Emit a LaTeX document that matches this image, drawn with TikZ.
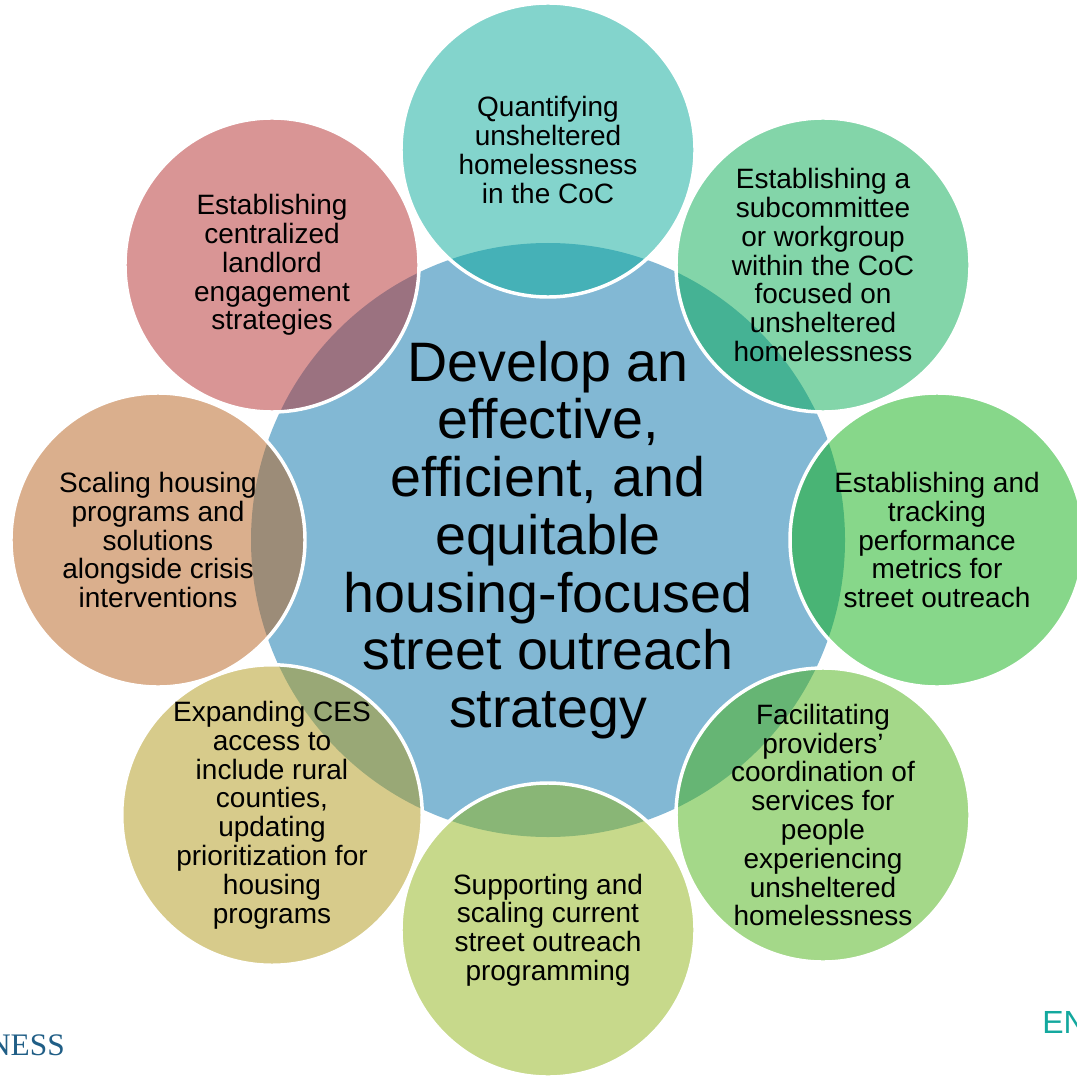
\documentclass[tikz,border=0pt]{standalone}
\usepackage{fontspec}
\setmainfont{Liberation Sans}
\newfontfamily\logoserif{Liberation Serif}
\definecolor{octblue}{RGB}{130,184,212}
\definecolor{cTop}{RGB}{9,171,155}
\definecolor{cTR}{RGB}{9,173,85}
\definecolor{cR}{RGB}{17,177,23}
\definecolor{cBR}{RGB}{75,179,21}
\definecolor{cB}{RGB}{145,181,25}
\definecolor{cBL}{RGB}{177,153,25}
\definecolor{cL}{RGB}{183,97,29}
\definecolor{cTL}{RGB}{181,45,45}
\definecolor{logoblue}{RGB}{32,94,134}
\definecolor{logoteal}{RGB}{19,168,158}
\begin{document}
\begin{tikzpicture}[x=0.75pt,y=-0.75pt,
  bubble/.style={circle,minimum size=220.5pt,inner sep=0pt,outer sep=0pt,
    draw=white,line width=2.6pt,fill opacity=0.5,draw opacity=1,text opacity=1,
    align=center,font=\fontsize{21}{21.6}\selectfont,text=black},
  hub/.style={circle,minimum size=445.5pt,inner sep=0pt,outer sep=0pt,fill=octblue,
    align=center,font=\fontsize{41.7}{43.3}\selectfont,text=black}]
\useasboundingbox (0,0) rectangle (1076,1080);
\fill[white] (0,0) rectangle (1076,1080);
% central circle with text
\node[hub] (hub) at (548,540) {Develop an\\effective,\\efficient, and\\equitable\\housing-focused\\street outreach\\strategy};
% surrounding circles
\node[bubble,fill=cTop] (top) at (548,150) {Quantifying\\unsheltered\\homelessness\\in the CoC};
\node[bubble,fill=cTR] (tr) at (823,265) {Establishing a\\subcommittee\\or workgroup\\within the CoC\\focused on\\unsheltered\\homelessness};
\node[bubble,fill=cR] (r) at (937,540) {Establishing and\\tracking\\performance\\metrics for\\street outreach};
\node[bubble,fill=cBR] (br) at (823,815) {Facilitating\\providers’\\coordination of\\services for\\people\\experiencing\\unsheltered\\homelessness};
\node[bubble,fill=cB] (b) at (548,930) {Supporting and\\scaling current\\street outreach\\programming};
\node[bubble,fill=cBL] (bl) at (272,815) {Expanding CES\\access to\\include rural\\counties,\\updating\\prioritization for\\housing\\programs};
\node[bubble,fill=cL] (l) at (158,540) {Scaling housing\\programs and\\solutions\\alongside crisis\\interventions};
\node[bubble,fill=cTL] (tl) at (272,265) {Establishing\\centralized\\landlord\\engagement\\strategies};
% cut-off logo texts
\node[anchor=base east,inner sep=0pt,text=logoblue,font=\logoserif\fontsize{23.5}{25}\selectfont] (logoL) at (65,1055) {NESS};
\node[anchor=base west,inner sep=0pt,text=logoteal,font=\fontsize{24}{26}\selectfont] (logoR) at (1042,1033) {EN};
\end{tikzpicture}
\end{document}
